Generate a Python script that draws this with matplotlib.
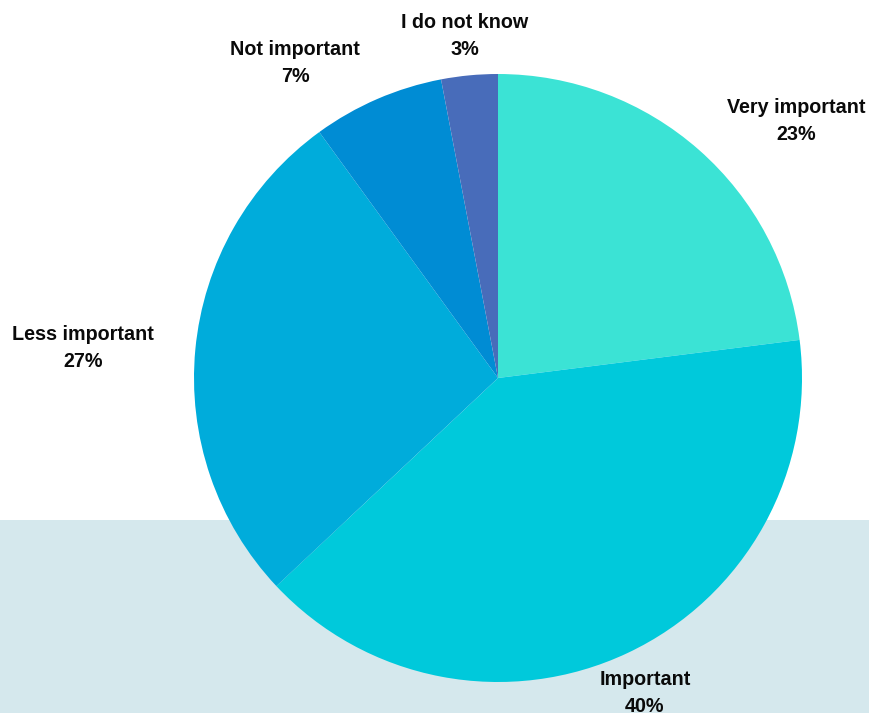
import matplotlib.pyplot as plt
from matplotlib.patches import Rectangle

# answers, clockwise from 12 o'clock
answers = ['Very important', 'Important', 'Less important', 'Not important', 'I do not know']
shares = [23, 40, 27, 7, 3]
colors = ['#3be3d5', '#00c9db', '#00acdb', '#008cd4', '#486cba']

# where each label sits (pixels from top-left)
label_pos = [(796, 121), (645, 693), (83, 348), (295, 63), (465, 36)]

W, H = 870, 713
fig = plt.figure(figsize=(W / 100, H / 100), dpi=100)
ax = fig.add_axes([0, 0, 1, 1])

# pale band along the bottom
ax.add_patch(Rectangle((0, 0), W, H - 520, color='#d5e8ed', zorder=0, lw=0))

ax.pie(shares, colors=colors, startangle=90, counterclock=False,
       center=(498, H - 378), radius=304, frame=True,
       wedgeprops=dict(linewidth=0, zorder=1))
ax.set_xlim(0, W)
ax.set_ylim(0, H)
ax.set_aspect('equal')
ax.axis('off')

for name, v, (x, y) in zip(answers, shares, label_pos):
    ax.text(x, H - y, f'{name}\n{v}%', ha='center', va='center',
            fontsize=14.2, fontweight='bold', family='Liberation Sans',
            linespacing=1.5, color='#0a0a0a', zorder=3)

fig.savefig('out.png', dpi=100)
